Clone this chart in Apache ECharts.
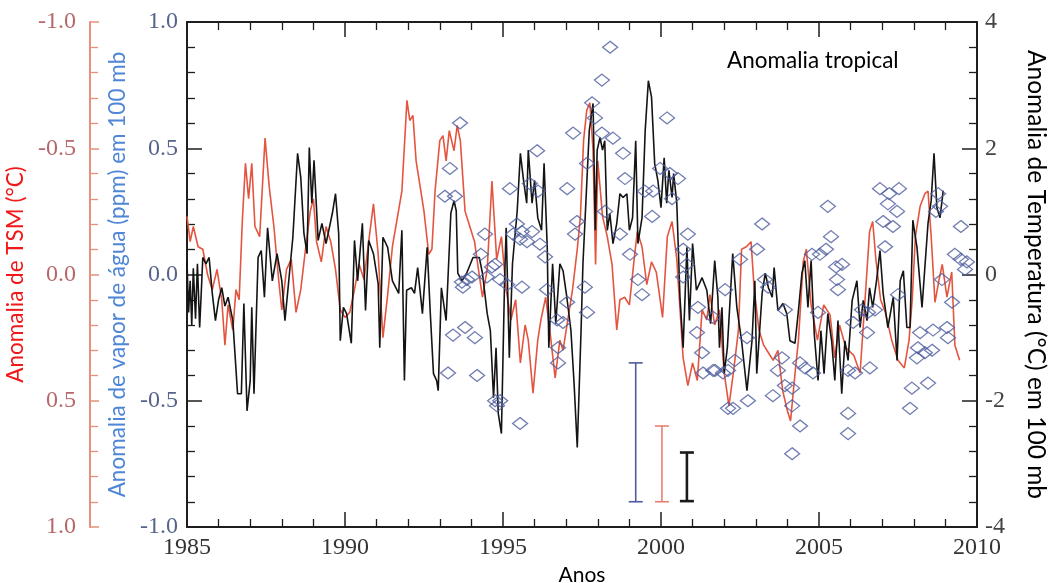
<!DOCTYPE html>
<html>
<head>
<meta charset="utf-8">
<script src="https://cdn.jsdelivr.net/npm/echarts@6/dist/echarts.min.js"></script>
<style>
  html, body { margin: 0; padding: 0; background: #fff; }
  #main { width: 1051px; height: 583px; }
</style>
</head>
<body>
<div id="main"></div>
<script>
// SST anomaly (red, inverted left axis)
const sstYears = [
  1985.0, 1985.1, 1985.2, 1985.35, 1985.5, 1985.65, 1985.8, 1985.95,
  1986.1, 1986.2, 1986.3, 1986.45, 1986.55, 1986.65, 1986.75, 1986.85, 1986.95,
  1987.05, 1987.15, 1987.3, 1987.47, 1987.6, 1987.75, 1987.9,
  1988.0, 1988.15, 1988.3, 1988.45, 1988.6, 1988.75, 1988.9,
  1989.0, 1989.1, 1989.25, 1989.4, 1989.55, 1989.7, 1989.85,
  1990.0, 1990.15, 1990.3, 1990.45, 1990.6, 1990.75, 1990.9,
  1991.05, 1991.2, 1991.35, 1991.5, 1991.65, 1991.8, 1991.96,
  1992.05, 1992.15, 1992.25, 1992.4, 1992.5, 1992.65, 1992.75, 1992.85,
  1993.0, 1993.1, 1993.2, 1993.3, 1993.45, 1993.55, 1993.65, 1993.8, 1993.95,
  1994.1, 1994.2, 1994.35, 1994.5, 1994.65, 1994.8, 1994.95,
  1995.1, 1995.25, 1995.4, 1995.55, 1995.7, 1995.8, 1995.95,
  1996.1, 1996.2, 1996.35, 1996.5, 1996.65, 1996.8, 1996.9,
  1997.05, 1997.2, 1997.35, 1997.45, 1997.55, 1997.65, 1997.75, 1997.85, 1997.93,
  1998.0, 1998.15, 1998.3, 1998.45, 1998.6, 1998.7, 1998.85,
  1999.0, 1999.15, 1999.25, 1999.4, 1999.55, 1999.7, 1999.85,
  2000.05, 2000.2, 2000.35, 2000.5, 2000.7, 2000.85,
  2001.0, 2001.15, 2001.3, 2001.45, 2001.55, 2001.7, 2001.85,
  2002.0, 2002.15, 2002.3, 2002.45, 2002.55, 2002.7, 2002.85, 2002.95,
  2003.1, 2003.25, 2003.4, 2003.55, 2003.7, 2003.85,
  2004.0, 2004.1, 2004.25, 2004.35, 2004.5, 2004.6, 2004.75, 2004.95,
  2005.15, 2005.35, 2005.5, 2005.65, 2005.85,
  2006.1, 2006.3, 2006.5, 2006.6, 2006.7, 2006.8, 2006.95,
  2007.1, 2007.3, 2007.5, 2007.7, 2007.85, 2007.95,
  2008.05, 2008.2, 2008.35, 2008.45, 2008.55, 2008.67, 2008.8, 2008.9,
  2009.05, 2009.2, 2009.3, 2009.45
];
const sstValues = [
  -0.23, -0.13, -0.19, -0.11, -0.10, 0.00, 0.06, -0.02,
  0.10, 0.28, 0.12, 0.22, 0.06, 0.10, -0.21, -0.44, -0.30,
  -0.44, -0.19, -0.15, -0.54, -0.35, -0.19, 0.02,
  0.14, -0.02, -0.06, 0.15, 0.06, -0.10, -0.25,
  -0.30, -0.13, -0.05, -0.19, -0.13, -0.02, 0.14,
  0.17, 0.15, 0.06, -0.04, 0.02, -0.13, -0.28,
  -0.08, 0.25, 0.08, -0.11, -0.22, -0.33, -0.69,
  -0.61, -0.63, -0.45, -0.33, -0.25, -0.08, -0.10, -0.33,
  -0.53, -0.55, -0.45, -0.57, -0.49, -0.59, -0.53, -0.25, -0.19,
  -0.13, -0.04, 0.09, -0.02, -0.37, -0.06, -0.15,
  0.06, 0.18, 0.10, 0.35, 0.20, 0.26, 0.47,
  0.26, 0.18, 0.09, 0.24, 0.41, 0.26, 0.30,
  0.18, 0.06, -0.10, -0.23, -0.53, -0.65, -0.68, -0.49, -0.04,
  -0.45, -0.23, -0.15, -0.04, 0.22, 0.10, 0.09,
  0.12, -0.06, -0.17, -0.11, 0.04, -0.05, -0.01,
  0.17, -0.15, -0.21, -0.06, 0.33, 0.44,
  0.35, 0.42, 0.14, 0.18, 0.08, 0.20, 0.14,
  0.39, 0.52, 0.38, 0.22, -0.10, -0.11, -0.13, 0.06,
  0.22, 0.28, 0.31, 0.34, 0.30, 0.46,
  0.54, 0.58, 0.38, 0.26, -0.05, -0.10, 0.12, 0.26,
  0.12, 0.16, 0.33, 0.20, 0.29,
  0.32, 0.39, 0.02, -0.17, -0.21, -0.06, 0.10,
  0.15, 0.26, 0.34, 0.37, 0.26, 0.10,
  -0.15, -0.27, -0.32, -0.33, -0.15, 0.11, 0.02, -0.04,
  0.09, -0.01, 0.28, 0.34
];

// temperature anomaly at 100 mb (black, right axis)
const tempYears = [
  1985.0, 1985.05, 1985.1, 1985.15, 1985.2, 1985.27, 1985.33, 1985.4, 1985.45, 1985.5, 1985.6, 1985.7, 1985.8, 1985.9,
  1986.0, 1986.1, 1986.2, 1986.3, 1986.45, 1986.6, 1986.72, 1986.8, 1986.9,
  1987.0, 1987.05, 1987.12, 1987.25, 1987.35, 1987.45, 1987.55, 1987.7, 1987.85,
  1988.0, 1988.1, 1988.25, 1988.35, 1988.5, 1988.6, 1988.7, 1988.8, 1988.87, 1988.95,
  1989.02, 1989.15, 1989.27, 1989.4, 1989.6, 1989.7, 1989.8, 1989.85, 1989.95,
  1990.05, 1990.2, 1990.3, 1990.4, 1990.55, 1990.65, 1990.75, 1990.9,
  1991.05, 1991.1, 1991.2, 1991.35, 1991.5, 1991.7, 1991.8, 1991.88, 1991.95,
  1992.1, 1992.2, 1992.3, 1992.45, 1992.6, 1992.7, 1992.8, 1992.9, 1992.95,
  1993.05, 1993.2, 1993.35, 1993.45, 1993.52, 1993.57, 1993.7, 1993.85,
  1994.05, 1994.25, 1994.35, 1994.5, 1994.6, 1994.7, 1994.78, 1994.85, 1994.95,
  1995.05, 1995.1, 1995.2, 1995.3, 1995.45, 1995.55, 1995.65, 1995.75, 1995.8, 1995.92,
  1996.0, 1996.1, 1996.22, 1996.3, 1996.4, 1996.45, 1996.57, 1996.67, 1996.8, 1996.9,
  1997.02, 1997.15, 1997.25, 1997.35, 1997.47, 1997.53, 1997.63, 1997.73, 1997.85, 1997.92, 1997.98,
  1998.07, 1998.15, 1998.22, 1998.3, 1998.38, 1998.48, 1998.6, 1998.7, 1998.8, 1998.92,
  1999.0, 1999.1, 1999.2, 1999.27, 1999.4, 1999.5, 1999.6, 1999.7, 1999.8, 1999.9,
  2000.0, 2000.1, 2000.18, 2000.25, 2000.35, 2000.4, 2000.5, 2000.6, 2000.7, 2000.82, 2000.9,
  2001.0, 2001.12, 2001.3, 2001.45, 2001.57, 2001.7, 2001.8, 2001.85, 2001.93,
  2002.0, 2002.1, 2002.27, 2002.4, 2002.55, 2002.72, 2002.88, 2002.97,
  2003.03, 2003.2, 2003.3, 2003.4, 2003.52, 2003.58, 2003.7, 2003.86, 2003.98,
  2004.08, 2004.24, 2004.34, 2004.46, 2004.55, 2004.65, 2004.75, 2004.85, 2004.97,
  2005.06, 2005.16, 2005.28, 2005.4, 2005.5, 2005.6, 2005.72, 2005.82, 2005.92,
  2006.05, 2006.2, 2006.3, 2006.4, 2006.52, 2006.6, 2006.7, 2006.82, 2006.93,
  2007.03, 2007.18, 2007.35, 2007.47, 2007.57, 2007.67, 2007.78, 2007.88, 2007.97,
  2008.1, 2008.26, 2008.35, 2008.45, 2008.55, 2008.64, 2008.73, 2008.83, 2008.93
];
const tempValues = [
  0.20, -0.60, -0.10, -0.80, 0.10, -0.70, 0.17, -0.84, -0.30, 0.27, 0.17, 0.27, -0.30, -0.73,
  -0.40, -0.21, -0.50, -0.36, -0.73, -1.89, -1.89, -0.46, -2.16,
  -1.68, -0.52, -1.89, 0.27, 0.38, -0.36, 0.74, -0.10, 0.33,
  -0.10, -0.73, 0.06, 0.59, 1.92, 1.54, 0.65, 0.33, 2.01, 1.13,
  1.81, 0.54, 0.81, 0.49, 0.97, 1.28, 0.65, -1.05, -0.52,
  -0.62, -1.09, 0.54, -0.10, 0.81, -0.57, 0.54, 0.33,
  -0.15, -1.16, 0.59, 0.43, -0.10, -0.30, 0.70, -1.68, -0.25,
  -0.21, -0.30, 0.11, -0.62, 0.43, -0.62, -1.57, -1.68, -1.84,
  -0.21, -0.73, 0.97, 1.17, 1.01, 0.02, -0.10, 0.02,
  0.27, 0.27, 0.02, -0.62, -0.89, -1.95, -1.16, -2.20, -2.52,
  -0.10, 0.74, -1.32, 0.17, 1.01, 1.92, 1.49, 1.13, 1.97, 1.13,
  1.49, 0.90, 0.70, 1.76, 0.43, -1.16, 0.17, -0.78, 0.17, 0.06,
  -0.36, -0.89, -1.73, -2.74, -0.89, 0.17, 1.22, 2.28, 2.71, 0.70, 1.97,
  2.17, 1.97, 2.12, 0.70, 0.97, 0.49, 0.81, 1.28, 1.22, 1.28,
  0.70, 0.90, 2.12, 0.49, 0.90, 2.28, 3.07, 2.81, 1.76, 1.49,
  1.06, 1.85, 1.13, 1.65, 1.22, 1.60, 1.13, -0.36, -1.16, 0.43, -0.73,
  0.49, -0.25, -0.05, -0.25, -0.78, 0.22, -0.36, -1.16, -0.52,
  -1.57, -1.16, 0.33, -0.52, -1.05, -1.84, -1.05, -0.10,
  -1.57, -0.30, 0.02, -0.21, -0.36, 0.11, -0.57, -0.46, -0.62,
  -1.05, -1.09, -0.62, 0.02, 0.22, -0.52, 0.22, -0.94, -1.68,
  -0.89, -1.57, -0.62, -1.05, -1.68, -0.73, -1.89, -1.05, -1.36,
  -0.41, -0.10, -0.84, -0.41, -0.73, -0.21, -0.52, -0.10, 0.38,
  -0.30, -0.84, -0.36, -1.36, -0.10, 0.06, -0.84, -0.84, 0.86,
  0.43, -0.52, 0.11, 0.81, 1.17, 1.92, 1.06, 0.90, 1.33
];

// water vapour anomaly at 100 mb (blue diamonds, left axis)
const vaporYears = [
  1993.16, 1993.26, 1993.32, 1993.42, 1993.48, 1993.64, 1993.70, 1993.73, 1993.80, 1993.86,
  1994.02, 1994.11, 1994.18, 1994.30, 1994.43, 1994.49, 1994.65, 1994.75, 1994.75, 1994.81, 1994.91, 1994.91,
  1995.13, 1995.22, 1995.32, 1995.44, 1995.54, 1995.54, 1995.60, 1995.60, 1995.76, 1995.85, 1995.92,
  1996.08, 1996.11, 1996.17, 1996.33, 1996.39, 1996.71, 1996.74, 1996.74, 1996.90,
  1997.03, 1997.03, 1997.22, 1997.28, 1997.34, 1997.59, 1997.66, 1997.66, 1997.82, 1997.91,
  1998.13, 1998.13, 1998.23, 1998.39, 1998.48, 1998.70, 1998.80, 1998.86,
  1999.02, 1999.27, 1999.40, 1999.49, 1999.72, 1999.75, 1999.97,
  2000.19, 2000.28, 2000.35, 2000.54, 2000.70, 2000.70, 2000.82, 2000.85,
  2001.14, 2001.17, 2001.30, 2001.33, 2001.65, 2001.65, 2001.71, 2001.96,
  2002.03, 2002.12, 2002.12, 2002.28, 2002.34, 2002.50, 2002.72, 2002.75,
  2003.04, 2003.20, 2003.29, 2003.39, 2003.54, 2003.70, 2003.83, 2003.92, 2003.92,
  2004.15, 2004.15, 2004.15, 2004.40, 2004.40, 2004.56, 2004.78, 2004.81, 2004.97,
  2005.03, 2005.22, 2005.28, 2005.38, 2005.54, 2005.57, 2005.60, 2005.73, 2005.92, 2005.92, 2005.92,
  2006.08, 2006.14, 2006.36, 2006.52, 2006.55, 2006.61, 2006.77, 2006.93,
  2007.03, 2007.09, 2007.18, 2007.22, 2007.34, 2007.47, 2007.50, 2007.53, 2007.88, 2007.94,
  2008.10, 2008.13, 2008.20, 2008.35, 2008.45, 2008.58, 2008.61, 2008.70, 2008.77, 2008.83, 2008.89,
  2009.05, 2009.08, 2009.21, 2009.30, 2009.49, 2009.49, 2009.62, 2009.68
];
const vaporValues = [
  0.31, -0.39, 0.42, -0.24, 0.31, 0.60, -0.03, -0.05, -0.21, -0.02,
  -0.01, -0.25, -0.40, 0.08, 0.16, -0.01, 0.03, 0.04, -0.50, -0.52, -0.02, -0.50,
  -0.04, 0.34, 0.16, 0.20, 0.14, -0.59, 0.17, -0.05, 0.13, 0.36, 0.17,
  0.49, 0.33, 0.12, 0.07, -0.06, -0.18, -0.29, -0.35, -0.19,
  0.34, -0.11, 0.56, 0.16, 0.21, -0.05, 0.44, -0.15, 0.68, 0.62,
  0.77, 0.56, 0.25, 0.90, 0.54, 0.16, 0.48, 0.38,
  0.08, -0.02, -0.08, 0.33, 0.23, 0.33, 0.42,
  0.62, 0.40, 0.30, 0.38, 0.10, -0.01, 0.04, 0.16,
  -0.23, -0.13, -0.31, -0.39, -0.17, -0.38, -0.38, -0.39,
  -0.06, -0.53, -0.38, -0.53, -0.34, 0.06, -0.25, -0.50,
  0.10, 0.20, -0.02, -0.05, -0.48, -0.38, -0.33, -0.14, -0.44,
  -0.45, -0.52, -0.71, -0.35, -0.60, -0.37, 0.08, -0.39, -0.15,
  0.08, 0.10, 0.27, 0.15, 0.03, -0.02, -0.06, 0.04, -0.38, -0.55, -0.63,
  -0.19, -0.39, -0.14, -0.23, -0.15, -0.37, -0.14, 0.34,
  0.21, 0.11, 0.28, 0.32, 0.19, 0.25, -0.08, 0.34, -0.53, -0.45,
  -0.33, -0.29, -0.23, -0.31, -0.43, -0.30, -0.22, 0.25, 0.32, 0.27, -0.02,
  -0.21, -0.25, -0.11, 0.08, 0.19, 0.06, 0.02, 0.05
];

// uncertainty bars: [year, low, high] in each series' own units
const vaporBar = [1999.2, -0.90, -0.35];
const sstBar = [2000.03, 0.60, 0.90];
const tempBar = [2000.82, -3.59, -2.82];

const zip = (xs, ys) => xs.map((x, i) => [x, ys[i]]);

const serif = 'Liberation Serif';
const sans = 'Lato';
const frame = '#1e1e1e';

function errorBar(yAxisIndex, d, color, width) {
  return {
    type: 'custom',
    xAxisIndex: 0,
    yAxisIndex: yAxisIndex,
    data: [d],
    encode: { x: 0, y: [1, 2] },
    z: 5,
    renderItem: function (params, api) {
      const x = api.value(0);
      const lo = api.coord([x, api.value(1)]);
      const hi = api.coord([x, api.value(2)]);
      const half = 7;
      const style = { stroke: color, lineWidth: width };
      return {
        type: 'group',
        children: [
          { type: 'line', shape: { x1: lo[0], y1: lo[1], x2: hi[0], y2: hi[1] }, style: style },
          { type: 'line', shape: { x1: lo[0] - half, y1: lo[1], x2: lo[0] + half, y2: lo[1] }, style: style },
          { type: 'line', shape: { x1: hi[0] - half, y1: hi[1], x2: hi[0] + half, y2: hi[1] }, style: style }
        ]
      };
    }
  };
}

const myChart = echarts.init(document.getElementById('main'));

const xBase = {
  type: 'value',
  min: 1985,
  max: 2010,
  interval: 5,
  splitLine: { show: false },
  axisLine: { onZero: false, lineStyle: { color: frame, width: 2 } },
  axisTick: { inside: true, length: 15, lineStyle: { color: frame, width: 1.5 } },
  minorTick: { show: true, splitNumber: 5, length: 8, lineStyle: { color: frame, width: 1.3 } }
};

myChart.setOption({
  animation: false,
  backgroundColor: '#fff',
  title: {
    text: 'Anomalia tropical',
    left: 722,
    top: 44,
    textStyle: { fontFamily: sans, fontSize: 22.5, fontWeight: 'normal', color: '#000' }
  },
  grid: { left: 187, right: 74, top: 22, bottom: 56, outerBoundsMode: 'none' },
  xAxis: [
    Object.assign({}, xBase, {
      position: 'bottom',
      axisLabel: {
        fontFamily: serif, fontSize: 24, color: '#333', margin: 9,
        formatter: v => String(v)
      },
      name: 'Anos',
      nameLocation: 'middle',
      nameGap: 33,
      nameTextStyle: { fontFamily: sans, fontSize: 21, color: '#000' }
    }),
    Object.assign({}, xBase, {
      position: 'top',
      axisLabel: { show: false }
    })
  ],
  yAxis: [
    {
      type: 'value',
      position: 'left',
      min: -1,
      max: 1,
      interval: 0.5,
      splitLine: { show: false },
      axisLine: { show: true, onZero: false, lineStyle: { color: frame, width: 2 } },
      axisTick: { inside: true, length: 15, lineStyle: { color: frame, width: 1.5 } },
      minorTick: { show: true, splitNumber: 5, length: 8, lineStyle: { color: frame, width: 1.3 } },
      axisLabel: {
        fontFamily: serif, fontSize: 24, color: '#56648a', margin: 9,
        formatter: v => v.toFixed(1)
      },
      name: 'Anomalia de vapor de água (ppm) em 100 mb',
      nameLocation: 'middle',
      nameGap: 53,
      nameTextStyle: { fontFamily: sans, fontSize: 22.5, color: '#4f86d6' }
    },
    {
      type: 'value',
      position: 'left',
      offset: 97,
      inverse: true,
      min: -1,
      max: 1,
      interval: 0.5,
      splitLine: { show: false },
      axisLine: { show: true, onZero: false, lineStyle: { color: '#e8907e', width: 2 } },
      axisTick: { inside: true, length: 9, lineStyle: { color: '#e8907e', width: 1.5 } },
      minorTick: { show: true, splitNumber: 5, length: 8, lineStyle: { color: '#e8907e', width: 1.3 } },
      axisLabel: {
        fontFamily: serif, fontSize: 24, color: '#b5676a', margin: 14,
        formatter: v => v.toFixed(1)
      },
      name: 'Anomalia de TSM (°C)',
      nameLocation: 'middle',
      nameGap: 52,
      nameTextStyle: { fontFamily: sans, fontSize: 22.5, color: '#f01818' }
    },
    {
      type: 'value',
      position: 'right',
      min: -4,
      max: 4,
      interval: 2,
      splitLine: { show: false },
      axisLine: { show: true, onZero: false, lineStyle: { color: frame, width: 2 } },
      axisTick: { inside: true, length: 15, lineStyle: { color: frame, width: 1.5 } },
      minorTick: { show: true, splitNumber: 5, length: 8, lineStyle: { color: frame, width: 1.3 } },
      axisLabel: { fontFamily: serif, fontSize: 24, color: '#444', margin: 8 },
      name: 'Anomalia de Temperatura (°C) em 100 mb',
      nameLocation: 'middle',
      nameRotate: -90,
      nameGap: 46,
      nameTextStyle: { fontFamily: sans, fontSize: 24.5, color: '#000' }
    }
  ],
  series: [
    {
      name: 'TSM',
      type: 'line',
      xAxisIndex: 0,
      yAxisIndex: 1,
      data: zip(sstYears, sstValues),
      showSymbol: false,
      lineStyle: { color: '#e4553f', width: 1.6 },
      z: 2
    },
    {
      name: 'Temperatura',
      type: 'line',
      xAxisIndex: 0,
      yAxisIndex: 2,
      data: zip(tempYears, tempValues),
      showSymbol: false,
      lineStyle: { color: '#141414', width: 1.6 },
      z: 3
    },
    {
      name: 'Vapor de água',
      type: 'scatter',
      xAxisIndex: 0,
      yAxisIndex: 0,
      data: zip(vaporYears, vaporValues),
      symbol: 'diamond',
      symbolSize: [15, 12],
      itemStyle: { color: 'rgba(255,255,255,0)', borderColor: '#4d5c9e', borderWidth: 1.3 },
      z: 4
    },
    errorBar(0, vaporBar, '#4d5c9e', 1.6),
    errorBar(1, sstBar, '#e8806e', 1.6),
    errorBar(2, tempBar, '#1a1a1a', 2.6)
  ]
});

window.onresize = function () {
  myChart.resize();
};
</script>
</body>
</html>
